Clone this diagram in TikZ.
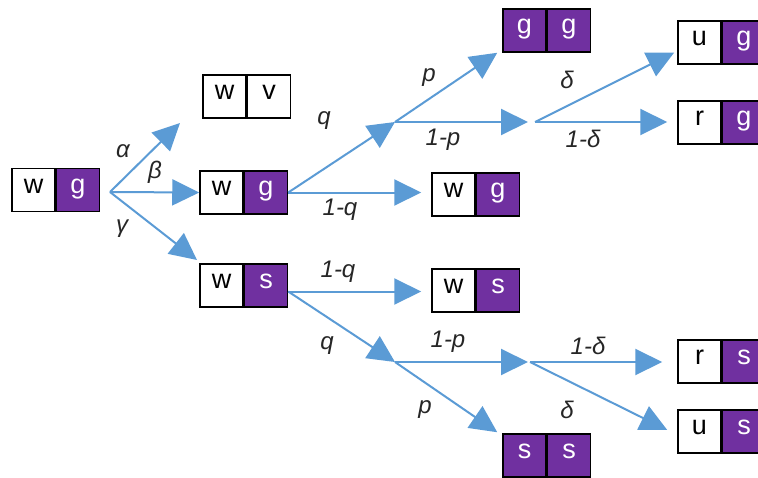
\documentclass[tikz,border=0pt]{standalone}
\usepackage{fontspec}
\setmainfont{Liberation Sans}
\usetikzlibrary{arrows.meta}
\definecolor{purp}{HTML}{7030A0}
\definecolor{arrblue}{HTML}{5B9BD5}
\newcommand\pairbox[6]{%
  \node[#3] (#1-l) at #2 {#4};
  \node[#5, anchor=west] (#1-r) at (#1-l.east) {#6};}
\tikzset{
  cell/.style={draw=black, line width=1.5pt, minimum width=43pt, minimum height=43pt,
    inner sep=0pt, text height=14pt, text depth=8pt,
    font=\fontsize{27}{27}\selectfont},
  wcell/.style={cell, fill=white, text=black},
  pcell/.style={cell, fill=purp, text=white},
  arr/.style={draw=arrblue, line width=2pt, -{Triangle[length=27pt,width=26pt]}},
  lab/.style={font=\fontsize{24}{24}\selectfont\itshape, text=black!85, inner sep=0pt}
}
\begin{document}
\begin{tikzpicture}[x=1pt, y=-1pt]
\useasboundingbox (0,0) rectangle (758,477);
% boxes
\pairbox{root}{(33.5,190)}{wcell}{w}{pcell}{g}
\pairbox{wv}{(224.5,96.5)}{wcell}{w}{wcell}{v}
\pairbox{wg}{(221.5,192.5)}{wcell}{w}{pcell}{g}
\pairbox{ws}{(221.5,285.5)}{wcell}{w}{pcell}{s}
\pairbox{gg}{(524.5,30.5)}{pcell}{g}{pcell}{g}
\pairbox{wgb}{(453.5,194.5)}{wcell}{w}{pcell}{g}
\pairbox{ug}{(699.5,42.5)}{wcell}{u}{pcell}{g}
\pairbox{rg}{(699.5,122.5)}{wcell}{r}{pcell}{g}
\pairbox{wsb}{(453.5,290.5)}{wcell}{w}{pcell}{s}
\pairbox{ss}{(524.5,455.5)}{pcell}{s}{pcell}{s}
\pairbox{rs}{(699.5,361.5)}{wcell}{r}{pcell}{s}
\pairbox{us}{(699.5,431.5)}{wcell}{u}{pcell}{s}
% branch points and free ends
\coordinate (b0) at (110,192);
\coordinate (bq) at (395,122);
\coordinate (bd) at (535,122);
\coordinate (bq2) at (395,362);
\coordinate (bd2) at (530,362);
\coordinate (ta) at (180,123);
\coordinate (tg) at (197,260);
% connectors
\draw[arr] (b0) -- (ta);
\draw[arr] (b0) -- (wg-l.west);
\draw[arr] (b0) -- (tg);
\draw[arr] (wg-r.east) -- (bq);
\draw[arr, shorten >=10pt] (wg-r.east) -- (wg-r.east -| wgb-l.west);
\draw[arr] (bq) -- ([xshift=-5pt]gg-l.south west);
\draw[arr, shorten >=7pt] (bq) -- (bd);
\draw[arr] (bd) -- ([xshift=-3pt,yshift=-10pt]ug-l.west);
\draw[arr, shorten >=10pt] (bd) -- (bd -| rg-l.west);
\draw[arr, shorten >=10pt] ([yshift=-6pt]ws-r.east) -- ([yshift=-6pt]ws-r.east -| wsb-l.west);
\draw[arr] ([yshift=-6pt]ws-r.east) -- (bq2);
\draw[arr, shorten >=2pt] (bq2) -- (bd2);
\draw[arr] (bq2) -- ([xshift=-5pt,yshift=1pt]ss-l.north west);
\draw[arr, shorten >=15pt] (bd2) -- (bd2 -| rs-l.west);
\draw[arr] (bd2) -- ([xshift=-10pt,yshift=1.5pt]us-l.west);
% labels
\node[lab] (la) at (123,151) {α};
\node[lab] (lb) at (155,172) {β};
\node[lab] (lg) at (122,229) {γ};
\node[lab] (lq) at (324,121) {q};
\node[lab] (lp) at (429,78) {p};
\node[lab] (l1p) at (443,140) {1-p};
\node[lab] (l1q) at (340,210) {1-q};
\node[lab] (ld) at (567,80) {δ};
\node[lab] (l1d) at (583,139) {1-δ};
\node[lab] (m1q) at (338,272) {1-q};
\node[lab] (mq) at (327,346) {q};
\node[lab] (m1p) at (448,342) {1-p};
\node[lab] (mp) at (425,410) {p};
\node[lab] (m1d) at (588,346) {1-δ};
\node[lab] (md) at (567,410) {δ};
\end{tikzpicture}
\end{document}
